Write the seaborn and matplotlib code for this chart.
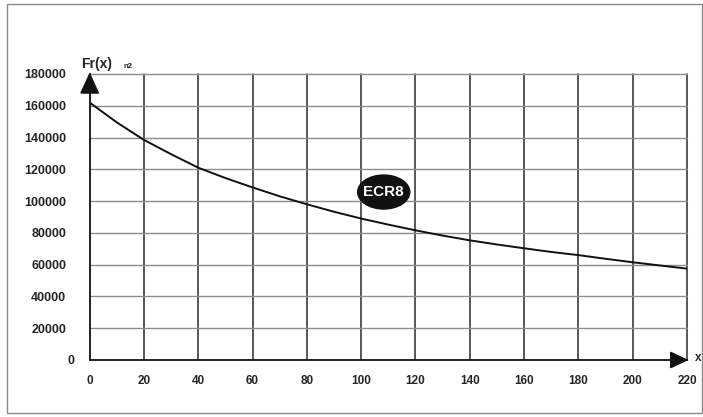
import numpy as np
import pandas as pd
import matplotlib.pyplot as plt
import matplotlib.patches as mpatches
import matplotlib.transforms as mtransforms
import seaborn as sns

# ── data ──────────────────────────────────────────────────────────────────────
x_vals = [0, 10, 20, 30, 40, 50, 60, 70, 80, 90, 100, 110,
          120, 130, 140, 150, 160, 170, 180, 190, 200, 210, 220]
fr_vals = [162000, 149500, 138500, 129500, 121000, 114500, 108600, 103000,
           98000, 93300, 89000, 85200, 81600, 78300, 75300, 72700,
           70300, 68000, 66000, 63700, 61500, 59500, 57500]
x_ticks = list(range(0, 221, 20))
y_ticks = list(range(0, 180001, 20000))
badge_text = "ECR8"

df = pd.DataFrame({"x": x_vals, "Fr": fr_vals})

sns.set_style("white")
plt.rcParams["font.family"] = ["Liberation Sans", "DejaVu Sans"]

fig = plt.figure(figsize=(7.03, 4.17), dpi=100)
ax = fig.add_axes([0.1276, 0.1367, 0.8496, 0.6859])

# outer frame
fig.patches.append(mpatches.Rectangle((0.0100, 0.0096), 0.9886, 0.981,
                                      transform=fig.transFigure, fill=False,
                                      edgecolor="#8a8a8a", linewidth=1.0))

# grid: dark verticals, grey horizontals
for xv in x_ticks[1:]:
    ax.axvline(xv, color="#2a2a2a", linewidth=1.1, zorder=1, clip_on=False)
for yv in y_ticks[1:]:
    ax.axhline(yv, color="#8c8c8c", linewidth=1.0, zorder=1, clip_on=False)

sns.lineplot(data=df, x="x", y="Fr", color="#111111", linewidth=1.4, ax=ax, zorder=3)

ax.set_xlim(0, 220)
ax.set_ylim(0, 180000)
ax.set_xticks(x_ticks)
ax.set_yticks(y_ticks)
ax.set_xticklabels([str(v) for v in x_ticks], fontsize=8.5, fontweight="bold")
ax.set_yticklabels([str(v) for v in y_ticks], fontsize=9, fontweight="bold")
ax.tick_params(axis="x", length=0, pad=11)
ax.tick_params(axis="y", length=0, pad=17)
ax.set_xlabel("")
ax.set_ylabel("")

# nudge the "0" y-label toward the axis like the reference
offset = mtransforms.ScaledTranslation(6 / 72, 0, fig.dpi_scale_trans)
ylabs = ax.get_yticklabels()
ylabs[0].set_transform(ylabs[0].get_transform() + offset)

for side in ["top", "right"]:
    ax.spines[side].set_visible(False)
for side in ["left", "bottom"]:
    ax.spines[side].set_color("#111111")
    ax.spines[side].set_linewidth(1.3)

# axis arrows
ax.add_patch(mpatches.Polygon([(-3.2, 168000), (3.2, 168000), (0, 180000)],
                              closed=True, color="#111111", clip_on=False, zorder=5))
ax.add_patch(mpatches.Polygon([(214.0, -4800), (214.0, 4800), (220, 0)],
                              closed=True, color="#111111", clip_on=False, zorder=5))

# axis titles
ax.text(-3, 186500, "Fr(x)", fontsize=10, fontweight="bold", ha="left", va="center")
ax.text(12.5, 184800, "n2", fontsize=5.5, fontweight="bold", ha="left", va="center")
ax.text(222.8, 1500, "x", fontsize=8.5, fontweight="bold", ha="left", va="center",
        clip_on=False)

# ECR8 badge
ax.add_patch(mpatches.Ellipse((108.3, 105700), 19.2, 21400, color="#111111", zorder=6))
ax.text(108.3, 105700, badge_text, color="white", fontsize=11, fontweight="bold",
        ha="center", va="center", zorder=7)

fig.savefig("out.png", dpi=100)
